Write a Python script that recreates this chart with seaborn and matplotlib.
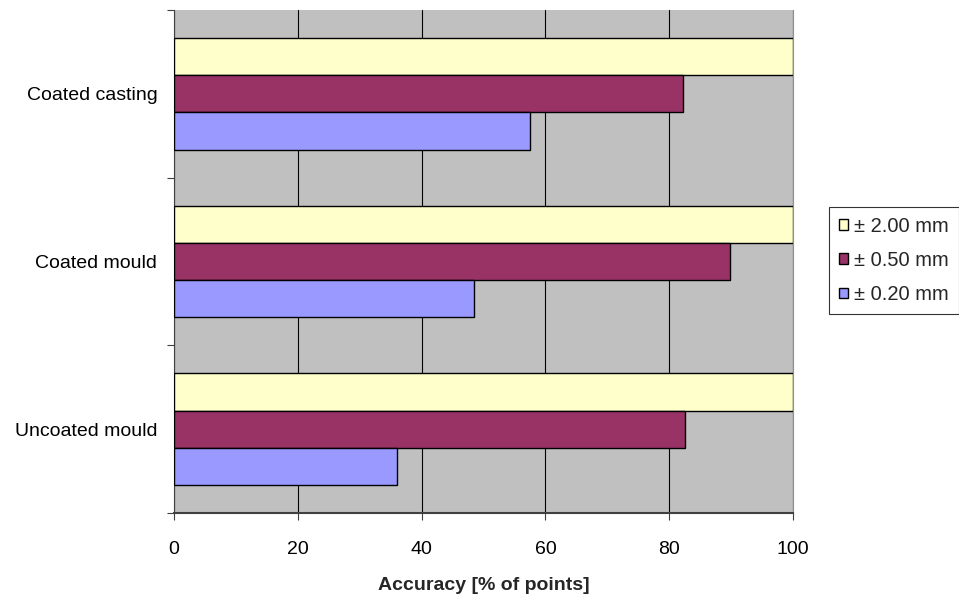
import numpy as np
import pandas as pd
import matplotlib
matplotlib.use("Agg")
import matplotlib.pyplot as plt
from matplotlib.ticker import FixedLocator
import seaborn as sns

# Data
categories = ["Coated casting", "Coated mould", "Uncoated mould"]
tolerances = ["\u00b1 2.00 mm", "\u00b1 0.50 mm", "\u00b1 0.20 mm"]
acc_200 = [100, 100, 100]
acc_050 = [82.2, 89.8, 82.5]
acc_020 = [57.5, 48.4, 36.1]
colors = ["#FFFFCC", "#993366", "#9999FF"]

# Long format for seaborn
df = pd.DataFrame({
    "category": categories * 3,
    "tolerance": np.repeat(tolerances, len(categories)),
    "accuracy": acc_200 + acc_050 + acc_020,
})

sns.set_style("white")
plt.rcParams["font.family"] = ["Liberation Sans", "DejaVu Sans"]
FS = 14

fig = plt.figure(figsize=(9.59, 5.95), dpi=100)
ax = fig.add_axes([174 / 959, 1 - 513 / 595, (793 - 174) / 959, (513 - 10) / 595])

sns.barplot(data=df, y="category", x="accuracy", hue="tolerance",
            order=categories, hue_order=tolerances, palette=colors,
            orient="h", width=0.667, edgecolor="black", linewidth=1.0,
            saturation=1, ax=ax, zorder=3)

ax.set_facecolor("#C0C0C0")
ax.set_xlim(0, 100)
ax.set_ylim(2.5, -0.5)
ax.set_xticks([0, 20, 40, 60, 80, 100])
ax.xaxis.grid(True, color="black", linewidth=0.8)
ax.yaxis.grid(False)
ax.set_axisbelow(True)

# category labels without marks, boundary ticks as minor
ax.tick_params(axis="y", which="major", length=0, pad=12, labelsize=FS, labelcolor="black")
ax.yaxis.set_minor_locator(FixedLocator([-0.5, 0.5, 1.5, 2.5]))
ax.tick_params(axis="y", which="minor", length=5, width=0.8, color="#404040", left=True)
ax.tick_params(axis="x", length=5, width=0.8, color="#404040", pad=15, labelsize=FS,
               labelcolor="black", bottom=True)

ax.spines["top"].set_visible(False)
ax.spines["right"].set_color("#909090")
ax.spines["right"].set_linewidth(0.8)
ax.spines["left"].set_color("#404040")
ax.spines["left"].set_linewidth(0.8)
ax.spines["bottom"].set_color("#404040")
ax.spines["bottom"].set_linewidth(1.5)

ax.set_ylabel("")
ax.set_xlabel("Accuracy [% of points]", fontsize=FS, fontweight="bold", labelpad=14)

leg = ax.legend(loc="center left", bbox_to_anchor=(829 / 959, 1 - 260.5 / 595),
                bbox_transform=fig.transFigure, frameon=True, fancybox=False,
                fontsize=14.5, handlelength=0.45, handleheight=0.45, handletextpad=0.3,
                labelspacing=0.75, borderpad=0.5, borderaxespad=0)
leg.get_frame().set_edgecolor("black")
leg.get_frame().set_linewidth(0.8)
for h in leg.legend_handles:
    h.set_edgecolor("black")
    h.set_linewidth(1.0)

fig.savefig("out.png", dpi=100)
